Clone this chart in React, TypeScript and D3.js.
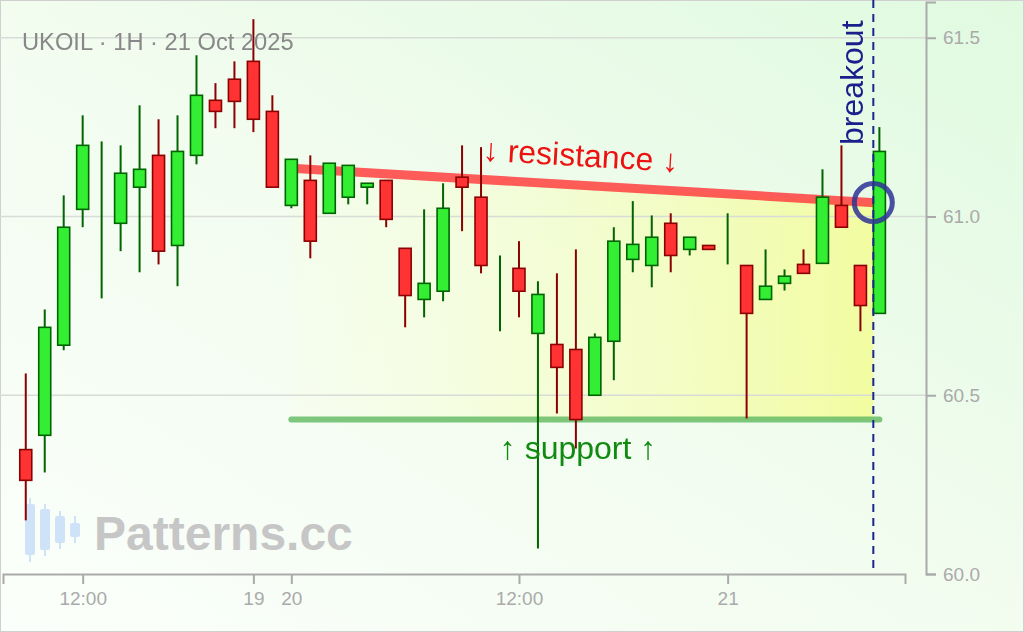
import React, { useEffect, useRef } from 'react';
import * as d3 from 'd3';

// UKOIL 1H candles
const opens = [60.348, 60.388, 60.640, 61.020, 61.000, 60.981, 61.082, 61.171, 60.919, 61.171, 61.325, 61.384, 61.434, 61.294, 61.031, 61.101, 61.009, 61.054, 61.082, 61.101, 60.911, 60.768, 60.791, 61.110, 61.054, 60.800, 60.855, 60.673, 60.642, 60.628, 60.500, 60.651, 60.880, 60.863, 60.981, 60.908, 60.919, 60.950, 60.863, 60.768, 60.813, 60.866, 60.869, 61.031, 60.863, 60.729];
const highs = [60.561, 60.740, 61.059, 61.283, 61.210, 61.199, 61.311, 61.272, 61.283, 61.451, 61.373, 61.434, 61.552, 61.339, 61.160, 61.171, 61.149, 61.143, 61.093, 61.101, 60.911, 61.020, 61.093, 61.199, 61.194, 60.891, 60.931, 60.819, 60.841, 60.908, 60.673, 60.970, 61.043, 61.003, 61.009, 60.942, 60.919, 61.009, 60.863, 60.908, 60.852, 60.908, 61.132, 61.199, 60.863, 61.250];
const lows = [60.150, 60.284, 60.626, 60.970, 60.771, 60.903, 60.844, 60.866, 60.805, 61.146, 61.247, 61.247, 61.236, 61.082, 61.023, 60.883, 61.009, 61.034, 61.034, 60.970, 60.690, 60.718, 60.763, 60.959, 60.841, 60.679, 60.718, 60.071, 60.449, 60.351, 60.500, 60.542, 60.844, 60.802, 60.844, 60.891, 60.908, 60.866, 60.435, 60.768, 60.793, 60.841, 60.869, 60.970, 60.679, 60.729];
const closes = [60.262, 60.690, 60.970, 61.199, 61.000, 61.121, 61.132, 60.903, 61.182, 61.339, 61.294, 61.322, 61.272, 61.082, 61.160, 60.931, 61.149, 61.143, 61.093, 60.992, 60.779, 60.813, 61.023, 61.082, 60.863, 60.800, 60.791, 60.782, 60.578, 60.432, 60.662, 60.931, 60.922, 60.942, 60.891, 60.942, 60.908, 60.950, 60.729, 60.805, 60.833, 60.841, 61.054, 60.970, 60.751, 61.182];

const xTickIdx = [3, 12, 14, 26, 37];
const xTickLabels = ['12:00', '19', '20', '12:00', '21'];
const yTicks = [60.0, 60.5, 61.0, 61.5];

// pattern lines (candle index -> price)
const patternIdx = [14, 45];
const resistance = [61.135, 61.038];
const support = [60.432, 60.432];
const breakoutIdx = 44.68;

// watermark logo candles: [wickTop, bodyTop, bodyBottom, wickBottom]
const logoCandles = [
  [498, 504, 555, 562],
  [504, 509, 550, 556],
  [511, 516, 543, 549],
  [516, 523, 537, 543],
];

const W = 1024;
const H = 632;
const FONT = '"Liberation Sans", Arial, sans-serif';

const App: React.FC = () => {
  const svgRef = useRef<SVGSVGElement>(null);

  useEffect(() => {
    if (!svgRef.current) return;
    const svg = d3.select(svgRef.current);
    svg.selectAll('*').remove();

    const x = d3.scaleLinear().domain([-1.2, 46.35]).range([3, 905]);
    const y = d3.scaleLinear().domain([60, 61.6]).range([574, 2]);
    const axisX = 926;

    const candles = opens.map((o, i) => ({ i, o, h: highs[i], l: lows[i], c: closes[i] }));

    const defs = svg.append('defs');
    const bg = defs.append('linearGradient').attr('id', 'bg')
      .attr('x1', 0).attr('y1', 1).attr('x2', 1).attr('y2', 0);
    bg.append('stop').attr('offset', '0%').attr('stop-color', '#fbfffb');
    bg.append('stop').attr('offset', '50%').attr('stop-color', '#f2fcef');
    bg.append('stop').attr('offset', '100%').attr('stop-color', '#e0fae0');

    const yel = defs.append('linearGradient').attr('id', 'yel')
      .attr('gradientUnits', 'userSpaceOnUse')
      .attr('x1', x(patternIdx[0])).attr('y1', 0)
      .attr('x2', x(breakoutIdx)).attr('y2', 0);
    yel.append('stop').attr('offset', '0%').attr('stop-color', '#fbffd8').attr('stop-opacity', 0.15);
    yel.append('stop').attr('offset', '100%').attr('stop-color', '#f2fca0').attr('stop-opacity', 1);

    // Background + frame
    svg.append('rect')
      .attr('x', 0.5).attr('y', 0.5)
      .attr('width', W - 1).attr('height', H - 1)
      .attr('fill', 'url(#bg)')
      .attr('stroke', '#d0d0d0');

    // Fill between resistance and support up to the breakout
    const resAt = d3.scaleLinear().domain(patternIdx).range(resistance);
    const fillPts: [number, number][] = [
      [x(patternIdx[0]), y(resistance[0])],
      [x(breakoutIdx), y(resAt(breakoutIdx))],
      [x(breakoutIdx), y(support[1])],
      [x(patternIdx[0]), y(support[0])],
    ];
    svg.append('path')
      .attr('d', d3.line()(fillPts) + 'Z')
      .attr('fill', 'url(#yel)');

    // Grid
    svg.append('g').selectAll('line')
      .data(yTicks.filter(t => t > 60))
      .enter().append('line')
      .attr('x1', 0).attr('x2', axisX)
      .attr('y1', d => y(d)).attr('y2', d => y(d))
      .attr('stroke', '#d8dcd6').attr('stroke-width', 1.5);

    // Watermark
    const wm = svg.append('g');
    wm.selectAll('line').data(logoCandles).enter().append('line')
      .attr('x1', (_, k) => 30 + k * 15).attr('x2', (_, k) => 30 + k * 15)
      .attr('y1', d => d[0]).attr('y2', d => d[3])
      .attr('stroke', '#cfe3f8').attr('stroke-width', 2);
    wm.selectAll('rect').data(logoCandles).enter().append('rect')
      .attr('x', (_, k) => 25 + k * 15).attr('width', 10)
      .attr('y', d => d[1]).attr('height', d => d[2] - d[1])
      .attr('rx', 2)
      .attr('fill', '#cfe3f8');
    wm.append('text')
      .attr('x', 94).attr('y', 550)
      .attr('font-family', FONT).attr('font-size', 48).attr('font-weight', 'bold')
      .attr('fill', '#c6c6c6')
      .text('Patterns.cc');

    // Resistance & support
    svg.append('line')
      .attr('x1', x(patternIdx[0])).attr('x2', x(patternIdx[1]))
      .attr('y1', y(resistance[0])).attr('y2', y(resistance[1]))
      .attr('stroke', '#ff4040').attr('stroke-opacity', 0.85)
      .attr('stroke-width', 9).attr('stroke-linecap', 'round');
    svg.append('line')
      .attr('x1', x(patternIdx[0])).attr('x2', x(patternIdx[1]))
      .attr('y1', y(support[0])).attr('y2', y(support[1]))
      .attr('stroke', '#5fb85f').attr('stroke-opacity', 0.8)
      .attr('stroke-width', 6).attr('stroke-linecap', 'round');

    // Axes
    const yAxisG = svg.append('g')
      .attr('transform', `translate(${axisX},0)`)
      .call(d3.axisRight(y).tickValues(yTicks).tickFormat(d3.format('.1f')).tickSize(10).tickPadding(7));
    const xAxisG = svg.append('g')
      .attr('transform', `translate(0,${y(60)})`)
      .call(d3.axisBottom(x).tickValues(xTickIdx)
        .tickFormat((_, k) => xTickLabels[k]).tickSize(10).tickPadding(8));
    [yAxisG, xAxisG].forEach(g => {
      g.select('.domain').attr('stroke', '#aaaaaa').attr('stroke-width', 2);
      g.selectAll('.tick line').attr('stroke', '#aaaaaa').attr('stroke-width', 2);
      g.selectAll('text')
        .attr('fill', '#aaaaaa')
        .attr('font-size', 19)
        .attr('font-family', FONT);
    });

    // Candlesticks
    const bw = 12;
    const cg = svg.append('g').selectAll('g')
      .data(candles).enter().append('g');
    const up = (d: { o: number; c: number }) => d.c >= d.o;

    cg.append('line')
      .attr('x1', d => x(d.i)).attr('x2', d => x(d.i))
      .attr('y1', d => y(d.h)).attr('y2', d => y(d.l))
      .attr('stroke', d => up(d) ? '#006400' : '#8b0000')
      .attr('stroke-width', 2);

    cg.filter(d => Math.abs(y(d.o) - y(d.c)) > 0.5)
      .append('rect')
      .attr('x', d => x(d.i) - bw / 2)
      .attr('width', bw)
      .attr('y', d => y(Math.max(d.o, d.c)))
      .attr('height', d => Math.abs(y(d.o) - y(d.c)))
      .attr('fill', d => up(d) ? '#33ee33' : '#ff3333')
      .attr('stroke', d => up(d) ? '#006400' : '#8b0000')
      .attr('stroke-width', 1.6);

    // Breakout marker
    const bx = x(breakoutIdx);
    svg.append('line')
      .attr('x1', bx).attr('x2', bx)
      .attr('y1', 0).attr('y2', y(60))
      .attr('stroke', '#1a2590').attr('stroke-width', 2)
      .attr('stroke-dasharray', '8,6');
    svg.append('circle')
      .attr('cx', bx).attr('cy', y(resAt(breakoutIdx)))
      .attr('r', 19)
      .attr('fill', 'none')
      .attr('stroke', '#2e3194').attr('stroke-opacity', 0.85)
      .attr('stroke-width', 5);

    // Labels
    svg.append('text')
      .attr('x', 22).attr('y', 50)
      .attr('font-family', FONT).attr('font-size', 23.7)
      .attr('fill', '#888888')
      .text('UKOIL · 1H · 21 Oct 2025');

    const x1 = x(patternIdx[0]), x2 = x(patternIdx[1]);
    const y1 = y(resistance[0]), y2 = y(resistance[1]);
    const ang = Math.atan2(y2 - y1, x2 - x1) * 180 / Math.PI;
    const mx = 580;
    const my = y1 + (mx - x1) * (y2 - y1) / (x2 - x1) - 19;
    svg.append('text')
      .attr('transform', `translate(${mx},${my}) rotate(${ang})`)
      .attr('text-anchor', 'middle')
      .attr('font-family', FONT).attr('font-size', 32)
      .attr('fill', '#ee1111')
      .text('↓ resistance ↓');

    svg.append('text')
      .attr('x', 578).attr('y', y(support[0]) + 39)
      .attr('text-anchor', 'middle')
      .attr('font-family', FONT).attr('font-size', 32)
      .attr('fill', '#108a10')
      .text('↑ support ↑');

    svg.append('text')
      .attr('transform', `translate(${bx - 10},145) rotate(-90)`)
      .attr('font-family', FONT).attr('font-size', 32)
      .attr('fill', '#1a1f8c')
      .text('breakout');
  }, []);

  return (
    <div style={{ position: 'fixed', left: 0, top: 0, width: W, height: H }}>
      <svg ref={svgRef} width={W} height={H} style={{ display: 'block' }} />
    </div>
  );
};

export default App;
